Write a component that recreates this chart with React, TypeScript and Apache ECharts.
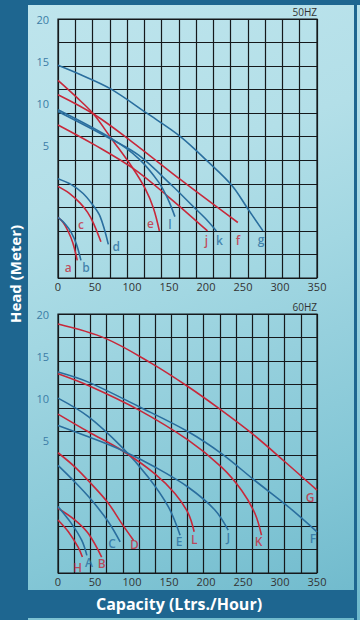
import React, { useEffect, useRef } from "react";
import * as echarts from "echarts";

// Tick labels
const xTicks = [0, 50, 100, 150, 200, 250, 300, 350];
const yTicks = [5, 10, 15, 20];

// 50HZ curves: [capacity, head]
const a50 = [[0, -3.6], [7, -4.2], [14, -5.3], [20, -6.6], [26, -8.7]];
const b50 = [[0, -3.6], [10, -4.4], [18, -5.4], [25, -6.8], [31, -8.7]];
const c50 = [[0, 0.1], [15, -0.7], [30, -1.9], [40, -3.0], [48, -4.3], [58, -6.5]];
const d50 = [[0, 1.0], [18, 0.3], [34, -0.75], [46, -2.0], [57, -3.5], [68, -6.8]];
const e50 = [[0, 12.7], [25, 10.7], [48, 8.7], [72, 5.8], [100, 2.4], [118, -0.2], [129, -2.5], [137, -5.2]];
const f50 = [[0, 11.0], [48, 8.7], [100, 5.4], [167, 0.8], [243, -4.2]];
const g50 = [[0, 14.5], [30, 13.4], [70, 11.75], [120, 8.8], [165, 6.05], [203, 3.0], [235, 0.2], [256, -2.5], [277, -5.2]];
const j50 = [[0, 7.4], [50, 5.0], [102, 2.2], [150, -1.2], [202, -5.2]];
const k50 = [[0, 9.0], [72, 5.7], [109, 3.8], [154, 0.2], [185, -2.5], [199, -3.7], [214, -5.2]];
const l50 = [[0, 9.2], [72, 5.8], [109, 3.4], [136, 0.6], [149, -1.5], [158, -3.5]];

// 60HZ curves: [capacity, head]
const G60 = [[0, 18.8], [64, 17.1], [127, 14.1], [176, 11.35], [217, 8.8], [262, 5.8], [307, 2.4], [350, -0.95]];
const F60 = [[0, 13.1], [41, 11.9], [109, 9.0], [176, 6.0], [221, 3.4], [266, 0.2], [311, -2.9], [350, -5.9]];
const K60 = [[0, 12.9], [41, 11.5], [109, 8.6], [176, 5.0], [221, 1.8], [248, -0.95], [266, -3.7], [275, -6.3]];
const E60 = [[0, 10.0], [41, 7.8], [86, 4.2], [122, 0.6], [149, -2.9], [165, -6.3]];
const L60 = [[0, 8.1], [41, 6.0], [86, 3.8], [131, 1.0], [158, -1.35], [176, -3.7], [184, -5.9]];
const J60 = [[0, 6.75], [41, 5.4], [86, 3.8], [131, 1.8], [176, -0.6], [212, -3.3], [230, -5.7]];
const D60 = [[0, 3.5], [23, 1.8], [45, -0.2], [68, -2.5], [86, -4.9], [102, -6.9]];
const C60 = [[0, 2.0], [23, 0.0], [45, -2.1], [68, -4.7], [84, -7.1]];
const B60 = [[0, -3.1], [23, -4.5], [41, -6.1], [59, -8.9]];
const A60 = [[0, -2.9], [18, -4.9], [32, -6.9], [39, -8.7]];
const H60 = [[0, -4.5], [14, -5.9], [27, -7.7], [33, -8.9]];

const RED = "#c8283a";
const BLUE = "#2a6e9e";

const curves50 = [
  { name: "a", data: a50, color: RED },
  { name: "b", data: b50, color: BLUE },
  { name: "c", data: c50, color: RED },
  { name: "d", data: d50, color: BLUE },
  { name: "e", data: e50, color: RED },
  { name: "f", data: f50, color: RED },
  { name: "g", data: g50, color: BLUE },
  { name: "j", data: j50, color: RED },
  { name: "k", data: k50, color: BLUE },
  { name: "l", data: l50, color: BLUE },
];
const curves60 = [
  { name: "G", data: G60, color: RED },
  { name: "F", data: F60, color: BLUE },
  { name: "K", data: K60, color: RED },
  { name: "E", data: E60, color: BLUE },
  { name: "L", data: L60, color: RED },
  { name: "J", data: J60, color: BLUE },
  { name: "D", data: D60, color: RED },
  { name: "C", data: C60, color: BLUE },
  { name: "B", data: B60, color: RED },
  { name: "A", data: A60, color: BLUE },
  { name: "H", data: H60, color: RED },
];

// label offsets (style only)
const labelOffset: Record<string, number[]> = {
  a: [-9, 7], b: [5, 7], c: [-20, -17], d: [8, 2], e: [-9, -7], l: [-5, 8], j: [-1, 10], k: [3, 10], f: [0, 18], g: [-2, 9],
  H: [-5, 10], A: [2, 7], B: [0, 6], C: [-8, 2], D: [1, 4], E: [-1, 6], L: [0, 8], J: [0, 7], K: [-3, 6], F: [-4, 7], G: [-7, 7],
};

const FONT = "'Open Sans', 'Noto Sans', sans-serif";
const Y_MIN = -10.8;
const Y_MAX = 20;
const GRID_LINE = "#15191c";

function buildAxes(gridIndex: number, cols: number) {
  const xMain = {
    type: "value", gridIndex, min: 0, max: 350, interval: 50, position: "bottom",
    axisLine: { show: false }, axisTick: { show: false }, splitLine: { show: false },
    axisLabel: { color: "#333", fontSize: 11, fontFamily: FONT, margin: 3 },
  };
  const xGrid = {
    type: "value", gridIndex, min: 0, max: cols, interval: 1, position: "top",
    axisLine: { show: false }, axisTick: { show: false }, axisLabel: { show: false },
    splitLine: { show: true, lineStyle: { color: GRID_LINE, width: 1.2 } },
  };
  const yMain = {
    type: "value", gridIndex, min: Y_MIN, max: Y_MAX,
    axisLine: { show: false }, axisTick: { show: false }, splitLine: { show: false },
    axisLabel: { color: "#3b7ca6", fontSize: 11, fontFamily: FONT, margin: 9, customValues: yTicks },
  };
  const yGrid = {
    type: "value", gridIndex, min: 0, max: 11, interval: 1, position: "right",
    axisLine: { show: false }, axisTick: { show: false }, axisLabel: { show: false },
    splitLine: { show: true, lineStyle: { color: GRID_LINE, width: 1.2 } },
  };
  return { xMain, xGrid, yMain, yGrid };
}

function buildSeries(curves: any[], axisIndex: number) {
  const lines = curves.map((c) => ({
    type: "line", name: c.name, data: c.data, xAxisIndex: axisIndex, yAxisIndex: axisIndex,
    smooth: 0.35, showSymbol: false, symbol: "none", lineStyle: { color: c.color, width: 1.6 },
    z: 3, silent: true,
  }));
  const labels = {
    type: "scatter", xAxisIndex: axisIndex, yAxisIndex: axisIndex, symbolSize: 0, z: 4, silent: true,
    data: curves.map((c) => ({
      name: c.name,
      value: c.data[c.data.length - 1],
      label: {
        show: true, position: "inside", formatter: c.name, color: c.color,
        fontSize: 12, fontWeight: 600, fontFamily: FONT, offset: labelOffset[c.name],
      },
    })),
  };
  return [...lines, labels];
}

export default function App() {
  const ref = useRef<HTMLDivElement>(null);
  useEffect(() => {
    const chart = echarts.init(ref.current!, null, { renderer: "svg" });
    const top = buildAxes(0, 15);
    const bot = buildAxes(1, 16);
    const DARK = "#1e6690";
    const option: any = {
      animation: false,
      backgroundColor: "transparent",
      grid: [
        { left: 58, top: 19, width: 259, height: 259, show: true, borderColor: GRID_LINE, borderWidth: 1.2, backgroundColor: "transparent" },
        { left: 58, top: 314, width: 259, height: 259, show: true, borderColor: GRID_LINE, borderWidth: 1.2, backgroundColor: "transparent" },
      ],
      xAxis: [top.xMain, top.xGrid, bot.xMain, bot.xGrid],
      yAxis: [top.yMain, top.yGrid, bot.yMain, bot.yGrid],
      series: [...buildSeries(curves50, 0), ...buildSeries(curves60, 2)],
      graphic: [
        { type: "rect", shape: { x: 0, y: 0, width: 28, height: 620 }, style: { fill: DARK }, z: 1 },
        { type: "rect", shape: { x: 0, y: 0, width: 360, height: 5 }, style: { fill: DARK }, z: 1 },
        { type: "rect", shape: { x: 354, y: 0, width: 3, height: 620 }, style: { fill: DARK }, z: 1 },
        { type: "rect", shape: { x: 0, y: 590, width: 357, height: 28 }, style: { fill: DARK }, z: 1 },
        {
          type: "text", x: 15, y: 274, rotation: Math.PI / 2, z: 10,
          style: { text: "Head (Meter)", fill: "#fff", fontSize: 15, fontWeight: "bold", fontFamily: FONT, align: "center", verticalAlign: "middle" },
        },
        {
          type: "text", x: 179, y: 604, z: 10,
          style: { text: "Capacity (Ltrs./Hour)", fill: "#fff", fontSize: 16, fontWeight: "bold", fontFamily: FONT, align: "center", verticalAlign: "middle" },
        },
        {
          type: "text", x: 317, y: 12, z: 10,
          style: { text: "50HZ", fill: "#333", fontSize: 10, fontFamily: FONT, align: "right", verticalAlign: "middle" },
        },
        {
          type: "text", x: 317, y: 307, z: 10,
          style: { text: "60HZ", fill: "#333", fontSize: 10, fontFamily: FONT, align: "right", verticalAlign: "middle" },
        },
      ],
    };
    chart.setOption(option);
    return () => chart.dispose();
  }, []);
  return (
    <div
      style={{
        position: "absolute", left: 0, top: 0, width: 360, height: 620,
        background: "linear-gradient(160deg, #bfe5ed 0%, #b3dfe8 30%, #a2d7e2 48%, #96d0dd 60%, #84c7d6 78%, #6db8cb 100%)",
      }}
    >
      <div ref={ref} style={{ width: 360, height: 620 }} />
    </div>
  );
}
